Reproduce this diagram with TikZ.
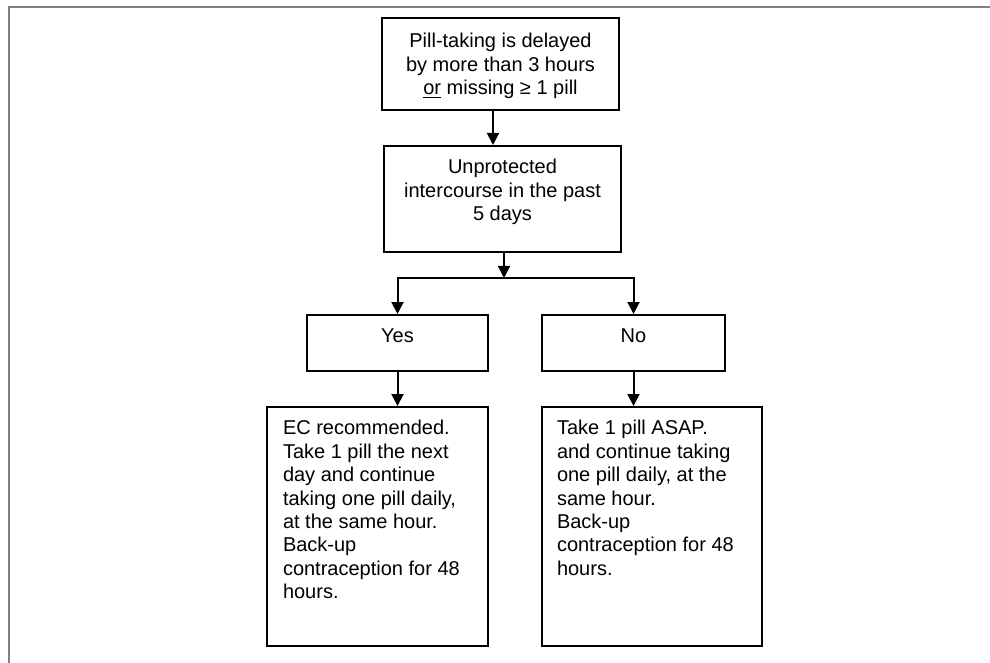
\documentclass[tikz,border=0pt]{standalone}
\usepackage{fontspec}
\setmainfont{Liberation Sans}
\usepackage{tikz}
\usetikzlibrary{arrows.meta,calc}

% text block of a box: width, height, top gap, text
\newcommand{\midtext}[4]{\parbox[c][#2][t]{#1}{\vspace*{#3}\centering\strut #4}}

\begin{document}
\begin{tikzpicture}[x=0.5pt,y=-0.5pt]
	\tikzstyle{box} = [draw, line width=1pt, inner sep=0pt, anchor=north west, font=\fontsize{10}{11.7}\selectfont]
	\tikzstyle{flow} = [line width=1pt, -{Triangle[length=6pt,width=6pt]}]
	\useasboundingbox (0,0) rectangle (990,663);
	\draw[gray, line width=0.75pt] (9,700) -- (9,7) -- (1000,7);
	\node[box] (delay) at (381,17) {\midtext{118.5pt}{46pt}{6.8pt}{Pill-taking is delayed\\by more than 3 hours\\\underline{or} missing ≥ 1 pill}};
	\node[box] (sex) at (383,145) {\midtext{118.5pt}{53pt}{5.8pt}{Unprotected\\intercourse in the past\\5 days}};
	\node[box] (yes) at (306,314) {\midtext{90.5pt}{28pt}{5.8pt}{Yes}};
	\node[box] (no) at (541,314) {\midtext{91.5pt}{28pt}{5.8pt}{No}};
	\node[box] (ec) at (266,406) {\parbox[c][119.5pt][t]{110.5pt}{\vspace*{5.8pt}\raggedright\leftskip=8pt\strut EC recommended.\\Take 1 pill the next\\day and continue\\taking one pill daily,\\at the same hour.\\Back-up\\contraception for 48\\hours.}};
	\node[box] (asap) at (541,406) {\parbox[c][119.5pt][t]{110pt}{\vspace*{5.8pt}\raggedright\leftskip=7.5pt\strut Take 1 pill ASAP.\\and continue taking\\one pill daily, at the\\same hour.\\Back-up\\contraception for 48\\hours.}};
	\coordinate (split) at (504,278);
	\draw[flow] ([xshift=-3.75pt]delay.south) -- ([xshift=-3.75pt]delay.south |- sex.north);
	\draw[flow] (sex.south -| split) -- (split);
	\draw[flow] (split) -| (yes.north);
	\draw[flow] (split) -| (no.north);
	\draw[flow] (yes.south) -- (yes.south |- ec.north);
	\draw[flow] (no.south) -- (no.south |- asap.north);
\end{tikzpicture}
\end{document}
